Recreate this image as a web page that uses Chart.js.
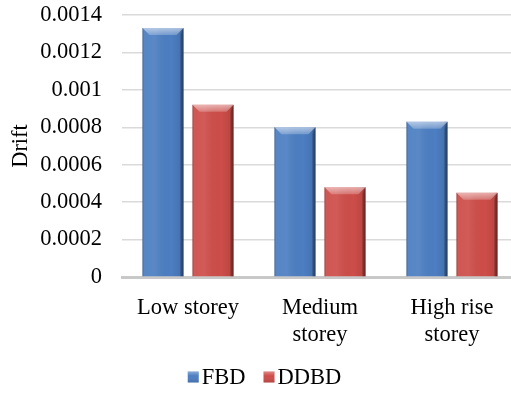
<!DOCTYPE html>
<html>
<head>
<meta charset="utf-8">
<script src="https://cdn.jsdelivr.net/npm/chart.js@4.4.1/dist/chart.umd.min.js"></script>
<style>
  html, body { margin: 0; padding: 0; background: #ffffff; overflow: hidden; }
  /* plot runs slightly past the right edge of the page, so the gridlines bleed off */
  #wrap { width: 518px; height: 393px; position: relative; }
</style>
</head>
<body>
<div id="wrap"><canvas id="chart"></canvas></div>
<script>
// Storey categories (multi-line labels are arrays)
const categories = ['Low storey', ['Medium', 'storey'], ['High rise', 'storey']];
// Drift per design method
const fbdDrift  = [0.00133, 0.00080, 0.00083];
const ddbdDrift = [0.00092, 0.00048, 0.00045];
// Y axis range
const yMin = 0;
const yMax = 0.0014;
const yStep = 0.0002;

const FONT = '"Liberation Serif", "Times New Roman", serif';
const FONT_SIZE = 22.5;

// Adds a bevelled, shaded look on top of each drawn bar
const bevelBars = {
  id: 'bevelBars',
  afterDatasetsDraw(chart) {
    const ctx = chart.ctx;
    chart.data.datasets.forEach((ds, di) => {
      const meta = chart.getDatasetMeta(di);
      if (meta.hidden) return;
      meta.data.forEach(el => {
        const p = el.getProps(['x', 'y', 'base', 'width'], true);
        const l = p.x - p.width / 2, r = p.x + p.width / 2;
        const t = Math.min(p.y, p.base), b = Math.max(p.y, p.base);
        const bv = 7;
        ctx.save();
        // horizontal shading
        const g = ctx.createLinearGradient(l, 0, r, 0);
        g.addColorStop(0, 'rgba(0,0,0,0.28)');
        g.addColorStop(0.06, 'rgba(255,255,255,0.06)');
        g.addColorStop(0.3, 'rgba(255,255,255,0.08)');
        g.addColorStop(0.7, 'rgba(0,0,0,0.0)');
        g.addColorStop(0.9, 'rgba(0,0,0,0.08)');
        g.addColorStop(1, 'rgba(0,0,0,0.40)');
        ctx.fillStyle = g;
        ctx.fillRect(l, t, r - l, b - t);
        // top bevel
        ctx.beginPath();
        ctx.moveTo(l, t);
        ctx.lineTo(r, t);
        ctx.lineTo(r - bv, t + bv);
        ctx.lineTo(l + bv, t + bv);
        ctx.closePath();
        const tg = ctx.createLinearGradient(0, t, 0, t + bv);
        tg.addColorStop(0, 'rgba(255,255,255,0.55)');
        tg.addColorStop(1, 'rgba(255,255,255,0.22)');
        ctx.fillStyle = tg;
        ctx.fill();
        // right bevel
        ctx.beginPath();
        ctx.moveTo(r, t);
        ctx.lineTo(r - 3, t + bv);
        ctx.lineTo(r - 3, b);
        ctx.lineTo(r, b);
        ctx.closePath();
        ctx.fillStyle = 'rgba(0,0,0,0.18)';
        ctx.fill();
        ctx.restore();
      });
    });
  }
};

// Legend row under the axis: small shaded squares followed by the series names
const legendRow = {
  id: 'legendRow',
  afterDraw(chart) {
    const ctx = chart.ctx;
    const cx = 264.5, cy = 378, box = 11, gapText = 3, gapItem = 18;
    ctx.save();
    ctx.font = FONT_SIZE + 'px ' + FONT;
    ctx.textBaseline = 'middle';
    ctx.textAlign = 'left';
    const items = chart.data.datasets.map(ds => ({ text: ds.label, color: ds.backgroundColor }));
    const widths = items.map(it => box + gapText + ctx.measureText(it.text).width);
    const total = widths.reduce((a, b) => a + b, 0) + gapItem * (items.length - 1);
    let x = cx - total / 2;
    items.forEach((it, i) => {
      const by = cy - box / 2 - 1;
      ctx.fillStyle = it.color;
      ctx.fillRect(x, by, box, box);
      const g = ctx.createLinearGradient(0, by, 0, by + box);
      g.addColorStop(0, 'rgba(255,255,255,0.35)');
      g.addColorStop(0.4, 'rgba(255,255,255,0.0)');
      g.addColorStop(1, 'rgba(0,0,0,0.15)');
      ctx.fillStyle = g;
      ctx.fillRect(x, by, box, box);
      ctx.fillStyle = '#000';
      ctx.fillText(it.text, x + box + gapText, cy);
      x += widths[i] + gapItem;
    });
    ctx.restore();
  }
};

new Chart(document.getElementById('chart'), {
  type: 'bar',
  data: {
    labels: categories,
    datasets: [
      { label: 'FBD',  data: fbdDrift,  backgroundColor: '#4c7ec2', borderWidth: 0 },
      { label: 'DDBD', data: ddbdDrift, backgroundColor: '#cd4d49', borderWidth: 0 }
    ]
  },
  options: {
    responsive: true,
    maintainAspectRatio: false,
    animation: false,
    datasets: { bar: { categoryPercentage: 0.758, barPercentage: 0.82 } },
    layout: { padding: { left: 8, right: 0, top: 15, bottom: 46 } },
    plugins: {
      legend: { display: false },
      tooltip: { enabled: false }
    },
    scales: {
      x: {
        grid: { display: false, drawTicks: false },
        border: { display: true, color: '#c8c8c8', width: 3 },
        ticks: {
          font: { family: FONT, size: FONT_SIZE, lineHeight: 1.22 },
          color: '#000',
          padding: 17,
          maxRotation: 0,
          autoSkip: false
        },
        afterFit(scale) {
          scale.height = 70;
          scale.paddingLeft = 0;
          scale.paddingRight = 0;
        }
      },
      y: {
        min: yMin,
        max: yMax,
        grid: { color: '#dadada', lineWidth: 1.5, drawTicks: false },
        border: { display: false },
        ticks: {
          stepSize: yStep,
          font: { family: FONT, size: FONT_SIZE },
          color: '#000',
          padding: 20,
          callback: v => String(Number(v.toFixed(4)))
        },
        title: {
          display: true,
          text: 'Drift',
          font: { family: FONT, size: FONT_SIZE },
          color: '#000',
          padding: { top: 0, bottom: 0 }
        },
        afterFit(scale) {
          scale.width = 114;
          scale.paddingTop = 0;
          scale.paddingBottom = 0;
        }
      }
    }
  },
  plugins: [bevelBars, legendRow]
});
</script>
</body>
</html>
